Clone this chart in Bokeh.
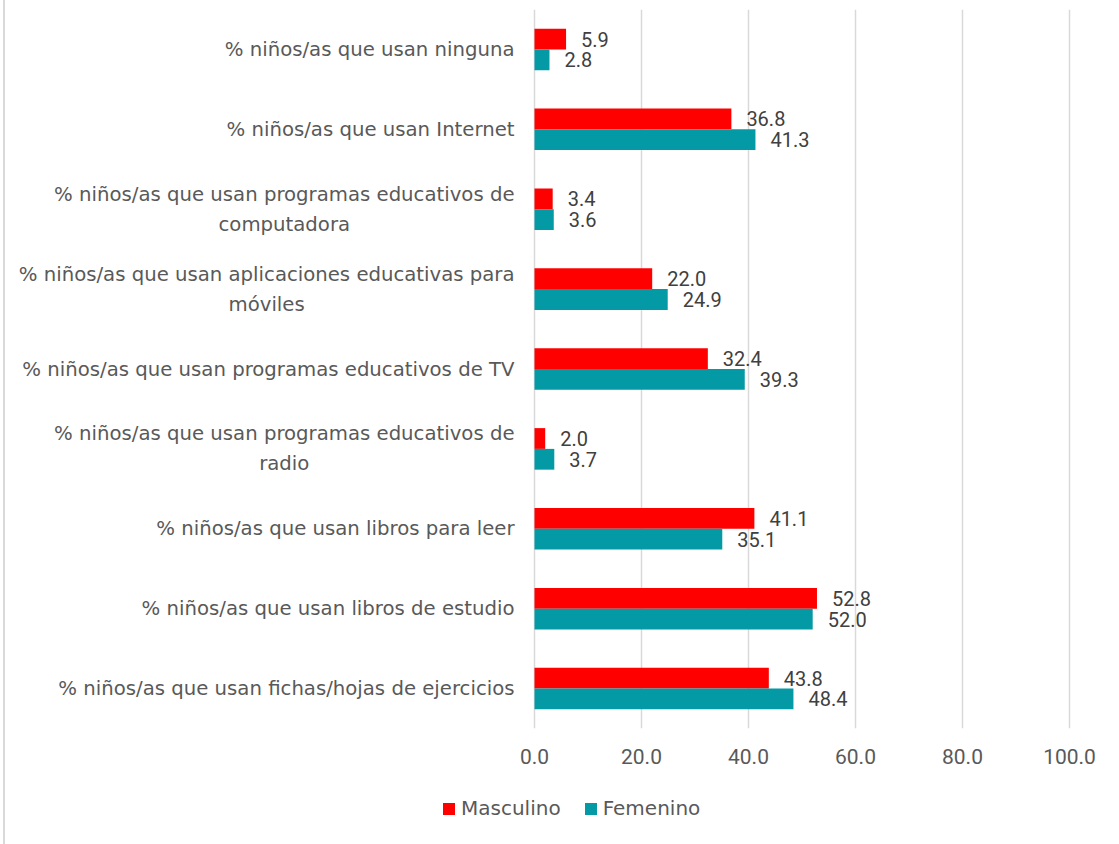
from bokeh.plotting import figure
from bokeh.models import (ColumnDataSource, FactorRange, Range1d, FixedTicker,
                          PrintfTickFormatter, Legend, LegendItem, Spacer)
from bokeh.layouts import column, row
from bokeh.transform import dodge
from bokeh.core.properties import value
from bokeh.embed import file_html
from bokeh.resources import INLINE

# ---- data ----
categories = [
    "% niños/as que usan ninguna",
    "% niños/as que usan Internet",
    "% niños/as que usan programas educativos de\ncomputadora",
    "% niños/as que usan aplicaciones educativas para\nmóviles",
    "% niños/as que usan programas educativos de TV",
    "% niños/as que usan programas educativos de\nradio",
    "% niños/as que usan libros para leer",
    "% niños/as que usan libros de estudio",
    "% niños/as que usan fichas/hojas de ejercicios",
]
masculino = [5.9, 36.8, 3.4, 22.0, 32.4, 2.0, 41.1, 52.8, 43.8]
femenino = [2.8, 41.3, 3.6, 24.9, 39.3, 3.7, 35.1, 52.0, 48.4]
x_ticks = [0, 20, 40, 60, 80, 100]
series_names = ["Masculino", "Femenino"]

RED = "#FF0000"
TEAL = "#039AA6"
GRID = "#D9D9D9"
LABEL_COLOR = "#595959"
VALUE_COLOR = "#404040"

source = ColumnDataSource(dict(
    cat=categories,
    masc=masculino,
    fem=femenino,
    masc_txt=["%.1f" % v for v in masculino],
    fem_txt=["%.1f" % v for v in femenino],
))

# layout: a thin border strip on the left (5px), then the chart
LEFT = 5
W = 1119 - LEFT
MAIN_H = 774
LEG_H = 844 - MAIN_H
zero_px = 534.0 - LEFT
px_per_unit = 5.35
x_start = -zero_px / px_per_unit
x_end = (W - zero_px) / px_per_unit

p = figure(
    width=W, height=MAIN_H,
    y_range=FactorRange(factors=list(reversed(categories)), range_padding=0),
    x_range=Range1d(x_start, x_end),
    output_backend="svg", toolbar_location=None,
    min_border_left=0, min_border_right=0, min_border_top=9, min_border_bottom=46,
)
p.outline_line_color = None
p.background_fill_color = "white"
p.border_fill_color = "white"

# grid
p.ygrid.grid_line_color = None
p.xgrid.ticker = FixedTicker(ticks=x_ticks)
p.xgrid.grid_line_color = GRID
p.xgrid.grid_line_width = 1.5

# axes
p.yaxis.visible = False
xa = p.xaxis[0]
xa.ticker = FixedTicker(ticks=x_ticks)
xa.formatter = PrintfTickFormatter(format="%.1f")
xa.axis_line_color = None
xa.major_tick_line_color = None
xa.minor_tick_line_color = None
xa.major_tick_out = 0
xa.major_tick_in = 0
xa.major_label_standoff = 20
xa.major_label_text_font = "Roboto"
xa.major_label_text_font_size = "21px"
xa.major_label_text_color = LABEL_COLOR

# bars
r_m = p.hbar(y=dodge("cat", 0.13, range=p.y_range), right="masc", left=0, height=0.26,
             source=source, fill_color=RED, line_color=None)
r_f = p.hbar(y=dodge("cat", -0.13, range=p.y_range), right="fem", left=0, height=0.26,
             source=source, fill_color=TEAL, line_color=None)

# value labels
p.text(x="masc", y=dodge("cat", 0.13, range=p.y_range), text="masc_txt", source=source,
       x_offset=15, text_align="left", text_baseline="middle",
       text_font=value("Roboto"), text_font_size="20px", text_color=VALUE_COLOR)
p.text(x="fem", y=dodge("cat", -0.13, range=p.y_range), text="fem_txt", source=source,
       x_offset=15, text_align="left", text_baseline="middle",
       text_font=value("Roboto"), text_font_size="20px", text_color=VALUE_COLOR)

# category labels (right edge 20px left of zero, lines centered within block)
p.text(x=0, y="cat", text="cat", source=source, x_offset=-20,
       anchor="center_right", text_align="center", text_baseline="middle",
       text_line_height=1.3,
       text_font=value("DejaVu Sans"), text_font_size="19.7px", text_color=LABEL_COLOR)

# ---- legend strip below the chart ----
pl = figure(
    width=W, height=LEG_H,
    x_range=Range1d(0, 1), y_range=Range1d(0, 1),
    output_backend="svg", toolbar_location=None,
    min_border=0,
)
pl.axis.visible = False
pl.grid.visible = False
pl.outline_line_color = None
pl.background_fill_color = "white"
pl.border_fill_color = "white"
# legend swatches: renderers whose marks lie outside the strip's visible range
lg_m = pl.hbar(y=[-5], left=[0], right=[0.1], height=0.5, fill_color=RED, line_color=None)
lg_f = pl.hbar(y=[-5], left=[0], right=[0.1], height=0.5, fill_color=TEAL, line_color=None)

legend = Legend(
    items=[LegendItem(label=series_names[0], renderers=[lg_m]),
           LegendItem(label=series_names[1], renderers=[lg_f])],
    orientation="horizontal",
    location=(441 - LEFT, 24),
    glyph_width=15, glyph_height=15,
    label_standoff=5, spacing=22, padding=0, margin=0,
    label_text_font="DejaVu Sans", label_text_font_size="20px",
    label_text_color=LABEL_COLOR,
    border_line_color=None, background_fill_alpha=0,
)
pl.add_layout(legend, "center")

gap = Spacer(width=3, height=844)
border = Spacer(width=2, height=844, styles={"background-color": GRID})
layout = row(gap, border, column(p, pl, spacing=0), spacing=0)
open("out.html", "w").write(file_html(layout, INLINE))
